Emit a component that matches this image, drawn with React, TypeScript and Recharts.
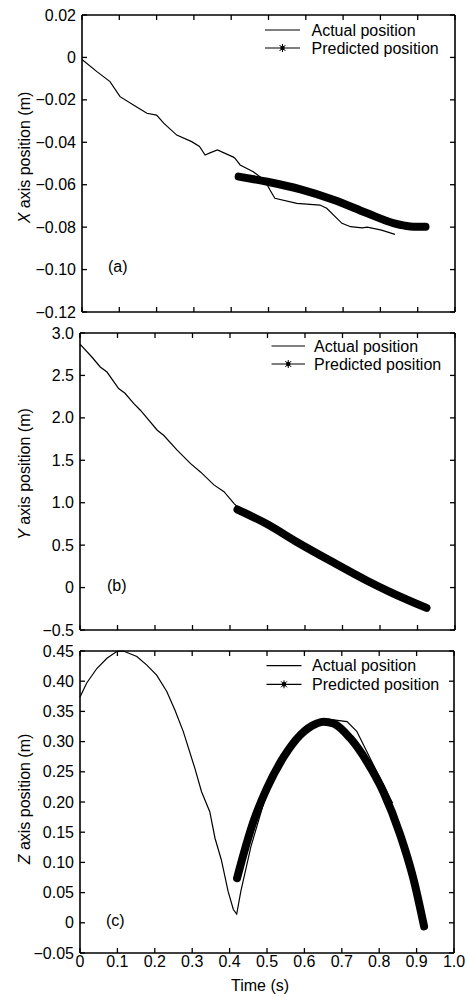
import React from 'react';
import { LineChart, Line, XAxis, YAxis, Legend, ReferenceLine } from 'recharts';

const FONT = '"Liberation Sans", Arial, Helvetica, sans-serif';

// ---------- shared time axis ----------
const timeTicks = [0, 0.1, 0.2, 0.3, 0.4, 0.5, 0.6, 0.7, 0.8, 0.9, 1.0];
const timeTickLabels = ['0', '0.1', '0.2', '0.3', '0.4', '0.5', '0.6', '0.7', '0.8', '0.9', '1.0'];

// ---------- panel (a): X axis position ----------
const aTicks = [0.02, 0, -0.02, -0.04, -0.06, -0.08, -0.1, -0.12];
const aTickLabels = ['0.02', '0', '\u22120.02', '\u22120.04', '\u22120.06', '\u22120.08', '\u22120.10', '\u22120.12'];
const aActualT = [0, 0.04, 0.075, 0.102, 0.138, 0.174, 0.2, 0.219, 0.254, 0.294, 0.315, 0.33, 0.343, 0.363, 0.406, 0.41, 0.424, 0.459, 0.49, 0.504, 0.517, 0.576, 0.638, 0.656, 0.697, 0.72, 0.751, 0.765, 0.803, 0.839];
const aActualV = [-0.001, -0.0067, -0.0114, -0.0185, -0.0224, -0.0263, -0.0272, -0.031, -0.0366, -0.0397, -0.042, -0.046, -0.045, -0.0436, -0.047, -0.0475, -0.0507, -0.0539, -0.058, -0.0625, -0.0664, -0.0688, -0.0696, -0.0711, -0.0782, -0.0798, -0.0803, -0.08, -0.0814, -0.0834];
const aPredT = [0.42, 0.497, 0.586, 0.676, 0.765, 0.837, 0.865, 0.89, 0.921];
const aPredV = [-0.0562, -0.0586, -0.0622, -0.0672, -0.0735, -0.0782, -0.0793, -0.0798, -0.0798];

// ---------- panel (b): Y axis position ----------
const bTicks = [3.0, 2.5, 2.0, 1.5, 1.0, 0.5, 0, -0.5];
const bTickLabels = ['3.0', '2.5', '2.0', '1.5', '1.0', '0.5', '0', '\u22120.5'];
const bActualT = [0, 0.031, 0.054, 0.072, 0.103, 0.12, 0.143, 0.161, 0.206, 0.223, 0.259, 0.295, 0.322, 0.357, 0.384, 0.411, 0.42, 0.5, 0.6, 0.7, 0.84];
const bActualV = [2.87, 2.72, 2.6, 2.54, 2.345, 2.29, 2.17, 2.09, 1.854, 1.795, 1.62, 1.46, 1.36, 1.21, 1.13, 0.99, 0.95, 0.74, 0.49, 0.25, -0.07];
const bPredT = [0.42, 0.496, 0.585, 0.674, 0.763, 0.826, 0.924];
const bPredV = [0.92, 0.755, 0.52, 0.3, 0.087, -0.05, -0.24];

// ---------- panel (c): Z axis position ----------
const cTicks = [0.45, 0.4, 0.35, 0.3, 0.25, 0.2, 0.15, 0.1, 0.05, 0, -0.05];
const cTickLabels = ['0.45', '0.40', '0.35', '0.30', '0.25', '0.20', '0.15', '0.10', '0.05', '0', '\u22120.05'];
const cActualT = [0, 0.018, 0.045, 0.072, 0.098, 0.116, 0.152, 0.178, 0.205, 0.232, 0.254, 0.276, 0.307, 0.325, 0.347, 0.361, 0.378, 0.396, 0.41, 0.419, 0.43, 0.457, 0.5, 0.545, 0.598, 0.625, 0.678, 0.714, 0.74, 0.785, 0.836];
const cActualV = [0.374, 0.397, 0.421, 0.438, 0.449, 0.45, 0.441, 0.427, 0.41, 0.383, 0.352, 0.317, 0.256, 0.217, 0.184, 0.14, 0.104, 0.052, 0.022, 0.0145, 0.052, 0.126, 0.217, 0.267, 0.319, 0.333, 0.336, 0.333, 0.317, 0.261, 0.198];
const cPredT = [0.42, 0.437, 0.464, 0.5, 0.545, 0.589, 0.633, 0.651, 0.678, 0.722, 0.767, 0.811, 0.856, 0.891, 0.92];
const cPredV = [0.074, 0.113, 0.168, 0.223, 0.275, 0.311, 0.33, 0.333, 0.33, 0.306, 0.267, 0.217, 0.146, 0.074, -0.006];

const legendNames = ['Actual position', 'Predicted position'];

const zip = (t: number[], v: number[]) => t.map((tt, i) => ({ t: tt, v: v[i] }));

const findLabel = (ticks: number[], labels: string[], value: number) => {
  const i = ticks.findIndex((k) => Math.abs(k - value) < 1e-9);
  return i >= 0 ? labels[i] : '';
};

const TICK_LEN = 5;
const TICK_W = 1.3;

// bottom tick: inward mark on the bottom edge, mirrored inward mark on the top edge, optional label
const bottomTick = (labels: string[] | null, plotTop: number) => (props: any) => {
  const { x, y, payload } = props;
  return (
    <g>
      <line x1={x} y1={y} x2={x} y2={y - TICK_LEN} stroke="#000" strokeWidth={TICK_W} />
      <line x1={x} y1={plotTop} x2={x} y2={plotTop + TICK_LEN} stroke="#000" strokeWidth={TICK_W} />
      {labels ? (
        <text x={x} y={y + 14} textAnchor="middle" fontSize={16} fontFamily={FONT} fill="#000">
          {findLabel(timeTicks, labels, payload.value)}
        </text>
      ) : null}
    </g>
  );
};

// left tick: inward mark on the left edge, mirrored inward mark on the right edge, label
const leftTick = (ticks: number[], labels: string[], plotRight: number) => (props: any) => {
  const { x, y, payload } = props;
  return (
    <g>
      <line x1={x} y1={y} x2={x + TICK_LEN} y2={y} stroke="#000" strokeWidth={TICK_W} />
      <line x1={plotRight} y1={y} x2={plotRight - TICK_LEN} y2={y} stroke="#000" strokeWidth={TICK_W} />
      <text x={x - 6} y={y + 5.5} textAnchor="end" fontSize={16} fontFamily={FONT} fill="#000">
        {findLabel(ticks, labels, payload.value)}
      </text>
    </g>
  );
};

const YTitle = ({ letter, cx, cy }: { letter: string; cx: number; cy: number }) => (
  <text
    x={cx}
    y={cy}
    transform={`rotate(-90 ${cx} ${cy})`}
    textAnchor="middle"
    fontSize={16}
    fontFamily={FONT}
    fill="#000"
  >
    <tspan fontStyle="italic">{letter}</tspan> axis position (m)
  </text>
);

const TimeTitle = ({ tx, ty }: { tx: number; ty: number }) => (
  <text x={tx} y={ty} textAnchor="middle" fontSize={16} fontFamily={FONT} fill="#000">
    Time (s)
  </text>
);

const makeLegend = (lx1: number, lx2: number, tx: number, y1: number, y2: number) => () => {
  const mid = (lx1 + lx2) / 2;
  return (
    <svg width={468} height={60}>
      <line x1={lx1} y1={y1} x2={lx2} y2={y1} stroke="#000" strokeWidth={1.2} />
      <text x={tx} y={y1 + 5.5} fontSize={16} fontFamily={FONT} fill="#000">{legendNames[0]}</text>
      <line x1={lx1} y1={y2} x2={lx2} y2={y2} stroke="#000" strokeWidth={1.2} />
      <circle cx={mid} cy={y2} r={2.2} fill="#000" />
      <line x1={mid - 3} y1={y2 - 3} x2={mid + 3} y2={y2 + 3} stroke="#000" strokeWidth={1} />
      <line x1={mid - 3} y1={y2 + 3} x2={mid + 3} y2={y2 - 3} stroke="#000" strokeWidth={1} />
      <line x1={mid} y1={y2 - 4} x2={mid} y2={y2 + 4} stroke="#000" strokeWidth={1} />
      <text x={tx} y={y2 + 5.5} fontSize={16} fontFamily={FONT} fill="#000">{legendNames[1]}</text>
    </svg>
  );
};

type PanelProps = {
  top: number;
  height: number;
  plotTop: number;
  plotLeft: number;
  plotRight: number;
  xHeight: number;
  yTicks: number[];
  yLabels: string[];
  domain: [number, number];
  actual: { t: number; v: number }[];
  pred: { t: number; v: number }[];
  letter: string;
  titleCy: number;
  showTime: boolean;
  legend: () => React.ReactElement;
};

const AXIS_LINE = { stroke: '#000', strokeWidth: 1.6 };

const Panel = (p: PanelProps) => (
  <div style={{ position: 'absolute', left: 0, top: p.top, width: 468, height: p.height }}>
    <LineChart
      width={468}
      height={p.height}
      margin={{ top: p.plotTop, right: 468 - p.plotRight, bottom: 0, left: 0 }}
    >
      <XAxis
        xAxisId="b"
        dataKey="t"
        type="number"
        domain={[0, 1]}
        ticks={timeTicks}
        interval={0}
        orientation="bottom"
        height={p.xHeight}
        tickSize={0}
        tickMargin={0}
        tickLine={false}
        axisLine={AXIS_LINE}
        tick={bottomTick(p.showTime ? timeTickLabels : null, p.plotTop)}
        label={p.showTime ? <TimeTitle tx={260} ty={351} /> : undefined}
      />
      <YAxis
        yAxisId="l"
        dataKey="v"
        type="number"
        domain={p.domain}
        ticks={p.yTicks}
        interval={0}
        orientation="left"
        width={p.plotLeft}
        tickSize={0}
        tickMargin={0}
        tickLine={false}
        axisLine={AXIS_LINE}
        tick={leftTick(p.yTicks, p.yLabels, p.plotRight)}
        label={<YTitle letter={p.letter} cx={30} cy={p.titleCy} />}
      />
      <ReferenceLine xAxisId="b" yAxisId="l" y={p.domain[1]} stroke="#000" strokeWidth={1.6} />
      <ReferenceLine xAxisId="b" yAxisId="l" x={1} stroke="#000" strokeWidth={1.6} />
      <Legend
        layout="vertical"
        align="center"
        verticalAlign="middle"
        content={p.legend}
        wrapperStyle={{ left: 0, top: 0, width: 468, height: 60 }}
      />
      <Line
        xAxisId="b"
        yAxisId="l"
        data={p.actual}
        dataKey="v"
        name={legendNames[0]}
        type="linear"
        stroke="#000"
        strokeWidth={1.2}
        dot={false}
        isAnimationActive={false}
      />
      <Line
        xAxisId="b"
        yAxisId="l"
        data={p.pred}
        dataKey="v"
        name={legendNames[1]}
        type="monotone"
        stroke="#000"
        strokeWidth={8}
        strokeLinecap="round"
        dot={false}
        isAnimationActive={false}
      />
    </LineChart>
  </div>
);

const PanelLetter = ({ text, left, top }: { text: string; left: number; top: number }) => (
  <div
    style={{
      position: 'absolute',
      left,
      top,
      fontFamily: FONT,
      fontSize: 16,
      lineHeight: '18px',
      color: '#000',
    }}
  >
    {text}
  </div>
);

export default function App() {
  return (
    <div style={{ position: 'absolute', left: 0, top: 0, width: 468, height: 997, background: '#fff' }}>
      <Panel
        top={0}
        height={330}
        plotTop={15}
        plotLeft={82}
        plotRight={455}
        xHeight={18}
        yTicks={aTicks}
        yLabels={aTickLabels}
        domain={[-0.12, 0.02]}
        actual={zip(aActualT, aActualV)}
        pred={zip(aPredT, aPredV)}
        letter="X"
        titleCy={157.5}
        showTime={false}
        legend={makeLegend(265, 300, 311.5, 30, 48)}
      />
      <Panel
        top={320}
        height={330}
        plotTop={13}
        plotLeft={80}
        plotRight={455}
        xHeight={20}
        yTicks={bTicks}
        yLabels={bTickLabels}
        domain={[-0.5, 3.0]}
        actual={zip(bActualT, bActualV)}
        pred={zip(bPredT, bPredV)}
        letter="Y"
        titleCy={154}
        showTime={false}
        legend={makeLegend(271.5, 305, 314, 26, 44)}
      />
      <Panel
        top={640}
        height={357}
        plotTop={11}
        plotLeft={80}
        plotRight={454}
        xHeight={44}
        yTicks={cTicks}
        yLabels={cTickLabels}
        domain={[-0.05, 0.45]}
        actual={zip(cActualT, cActualV)}
        pred={zip(cPredT, cPredV)}
        letter="Z"
        titleCy={159}
        showTime={true}
        legend={makeLegend(266.5, 301.5, 312, 25.7, 44.3)}
      />
      <PanelLetter text="(a)" left={108} top={258} />
      <PanelLetter text="(b)" left={107} top={577} />
      <PanelLetter text="(c)" left={106} top={912} />
    </div>
  );
}
